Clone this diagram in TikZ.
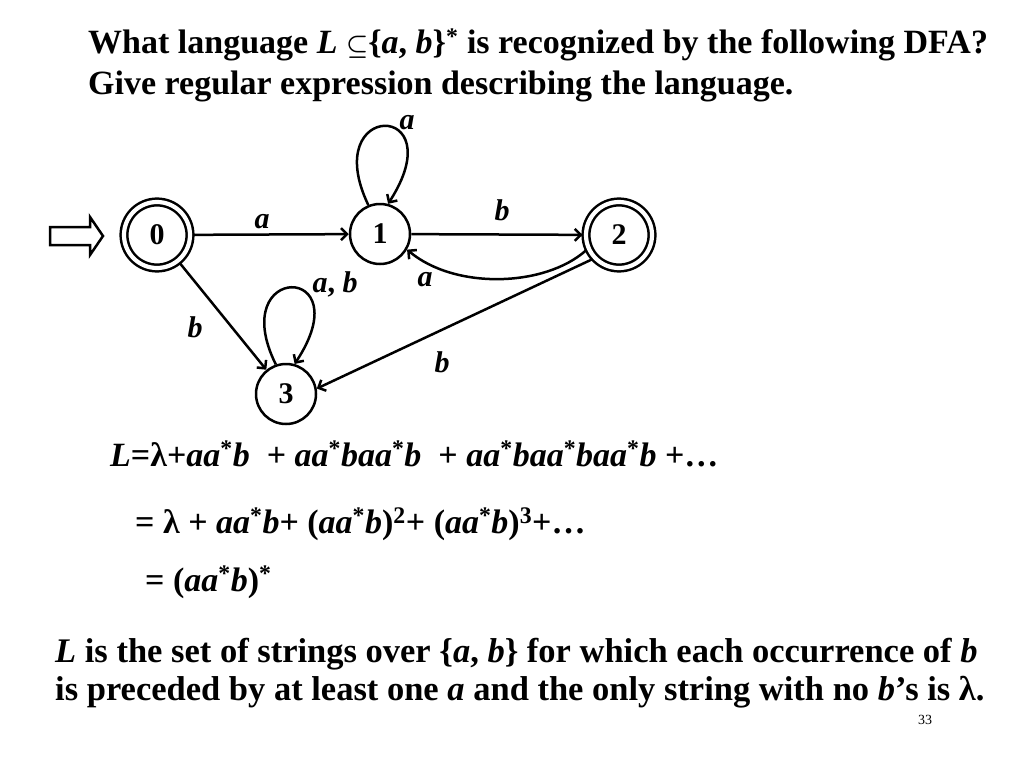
\documentclass[tikz,border=0pt]{standalone}
\usepackage{fontspec}
\setmainfont{Liberation Serif}
\usetikzlibrary{arrows.meta}
\newcommand\iv[1]{\textit{#1}}
\newcommand\st{\textsuperscript{*}}
\begin{document}
\begin{tikzpicture}[x=1pt,y=-1pt,
  big/.style={font=\fontsize{34}{40}\selectfont\bfseries},
  txt/.style={big, anchor=base west, inner sep=0pt},
  eqn/.style={txt, font=\fontsize{34}{40}\selectfont\bfseries},
  bot/.style={txt, font=\fontsize{34.5}{40}\selectfont\bfseries},
  state/.style={circle, draw, line width=2.5pt, minimum size=60pt, inner sep=0pt, font=\fontsize{30}{40}\selectfont\bfseries},
  accept/.style={state, double, double distance=4.2pt, minimum size=66pt, outer sep=3.5pt},
  lab/.style={font=\fontsize{30}{40}\selectfont\bfseries\itshape, inner sep=0pt},
  edge/.style={line width=2.5pt, -{Straight Barb[length=6pt,width=12pt,line width=2.5pt]}},
]
\useasboundingbox (0,0) rectangle (1024,768);
\fill[white] (0,0) rectangle (1024,768);

% title
\node[txt] (t1) at (88,54) {What language \iv{L} {\boldmath$\subseteq$}\{\iv{a}, \iv{b}\}\st{} is recognized by the following DFA?};
\node[txt] (t2) at (88,94) {Give regular expression describing the language.};

% states
\node[accept] (n0) at (157,235) {0};
\node[state] (n1) at (380,234) {1};
\node[accept] (n2) at (619,235) {2};
\node[state] (n3) at (286,394) {3};

% start arrow
\draw[line width=2.5pt, line join=miter] (50,227) -- (90,227) -- (90,217) -- (103,236) -- (90,255) -- (90,245) -- (50,245) -- cycle;

% edges
\draw[edge] (n0) -- (n1);
\draw[edge] (n1) -- (n2);
\draw[edge] (n1.112) .. controls (318,100) and (455,100) .. (n1.75);
\draw[edge] (n2.205) .. controls (545,287) and (455,290) .. (n1.-30);
\draw[edge] (n0) -- (n3);
\draw[edge] (n2.222) -- (n3.10);
\draw[edge] (n3.109) .. controls (225,262) and (362,262) .. (n3.74);

% edge labels
\node[lab] (l01) at (262,222) {a};
\node[lab] (l11) at (407,123) {a};
\node[lab] (l12) at (502,210) {b};
\node[lab] (l21) at (425,280) {a};
\node[lab] (l33) at (335,284) {a\upshape,~\itshape b};
\node[lab] (l03) at (195,327) {b};
\node[lab] (l23) at (442,362) {b};

% equations
\node[eqn] (e1) at (110,466) {\iv{L}=λ+\iv{aa}\st\iv{b}\ \ + \iv{aa}\st\iv{baa}\st\iv{b}\ \ + \iv{aa}\st\iv{baa}\st\iv{baa}\st\iv{b} +…};
\node[eqn] (e2) at (135,533) {= λ + \iv{aa}\st\iv{b}+ (\iv{aa}\st\iv{b})\textsuperscript{2}+ (\iv{aa}\st\iv{b})\textsuperscript{3}+…};
\node[eqn] (e3) at (145,591) {= (\iv{aa}\st\iv{b})\st};

% conclusion
\node[bot] (c1) at (55,662) {\iv{L} is the set of strings over \{\iv{a}, \iv{b}\} for which each occurrence of \iv{b}};
\node[bot] (c2) at (55,700) {is preceded by at least one \iv{a} and the only string with no \iv{b}’s is λ.};

\node[font=\fontsize{14}{16}\selectfont, inner sep=0pt] (pg) at (925,720) {33};
\end{tikzpicture}
\end{document}
